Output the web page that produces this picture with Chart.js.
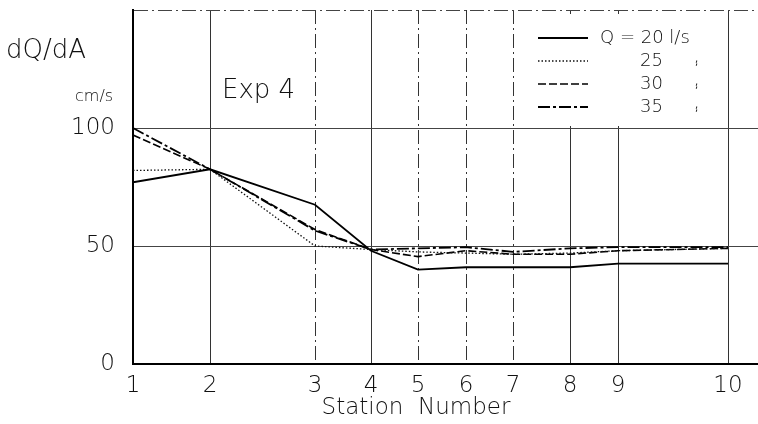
<!DOCTYPE html>
<html>
<head>
<meta charset="utf-8">
<script src="https://cdn.jsdelivr.net/npm/chart.js@4.4.0/dist/chart.umd.min.js"></script>
<style>
  html, body { margin: 0; padding: 0; background: #fff; }
  #wrap { width: 758px; height: 424px; }
</style>
</head>
<body>
<div id="wrap"><canvas id="dqda" width="758" height="424"></canvas></div>
<script>
// station positions along the flume (relative distance) and their labels
var stationPos = [0, 0.77, 1.82, 2.38, 2.85, 3.33, 3.80, 4.37, 4.85, 5.95];
var stationLabels = ["1", "2", "3", "4", "5", "6", "7", "8", "9", "10"];

// dQ/dA in cm/s for each discharge
var q20 = [77, 82.5, 67.5, 48, 40, 41, 41, 41, 42.5, 42.5];
var q25 = [82, 82.5, 50, 48.5, 47.5, 47, 46.5, 47, 48, 49];
var q30 = [97, 82.5, 57, 48.5, 45.5, 48, 46.5, 46.5, 48, 49];
var q35 = [100, 82.5, 56.5, 48.5, 49, 49.5, 47.5, 49, 49.5, 49.5];

var seriesNames = ["Q = 20 l/s", "25", "30", "35"];
var yTicks = [0, 50, 100];

var FONT = "'DejaVu Sans', sans-serif";
var solidStations = [1, 3, 7, 8, 9];  // indexes drawn as solid vertical lines

function pts(arr) {
    return arr.map(function(v, i) { return {x: stationPos[i], y: v}; });
}

// white box behind the legend, grid lines stop there
var legendBox = {
    id: 'legendBox',
    beforeDatasetsDraw: function(chart) {
        var ctx = chart.ctx;
        ctx.save();
        ctx.fillStyle = '#fff';
        ctx.fillRect(522, 14, 202, 112);
        ctx.restore();
    }
};

var textPlugin = {
    id: 'texts',
    afterDraw: function(chart) {
        var ctx = chart.ctx;
        ctx.save();
        ctx.fillStyle = '#111';
        ctx.textBaseline = 'middle';
        ctx.font = '200 26px ' + FONT;
        ctx.textAlign = 'left';
        ctx.fillText('dQ/dA', 6, 51);
        ctx.font = '200 16px ' + FONT;
        ctx.fillText('cm/s', 75, 97);
        ctx.font = '200 26px ' + FONT;
        ctx.fillText('Exp 4', 222, 91);
        ctx.font = '200 23px ' + FONT;
        ctx.textAlign = 'center';
        ctx.fillText('Station  Number', 416, 408);

        // legend
        var rows = [38, 61, 84, 107];
        chart.data.datasets.forEach(function(ds, i) {
            ctx.beginPath();
            ctx.setLineDash(ds.borderDash || []);
            ctx.lineWidth = ds.borderWidth;
            ctx.strokeStyle = ds.borderColor;
            ctx.moveTo(538, rows[i]);
            ctx.lineTo(588, rows[i]);
            ctx.stroke();
            ctx.setLineDash([]);
            ctx.font = '200 18px ' + FONT;
            ctx.textAlign = 'left';
            if (i == 0) {
                ctx.fillText(seriesNames[i], 600, rows[i]);
            } else {
                ctx.fillText(seriesNames[i], 640, rows[i]);
                ctx.font = '10px ' + FONT;
                ctx.fillText(',', 695, rows[i] - 2);
                ctx.fillText(',', 695, rows[i] + 1);
            }
        });
        ctx.restore();
    }
};

var ctx = document.getElementById('dqda').getContext('2d');
var chart = new Chart(ctx, {
    type: 'line',
    data: {
        datasets: [{
            label: seriesNames[0],
            data: pts(q20),
            borderColor: '#000',
            borderWidth: 1.8
        }, {
            label: seriesNames[1],
            data: pts(q25),
            borderColor: '#111',
            borderWidth: 1.3,
            borderDash: [1.5, 2]
        }, {
            label: seriesNames[2],
            data: pts(q30),
            borderColor: '#000',
            borderWidth: 1.6,
            borderDash: [8, 3]
        }, {
            label: seriesNames[3],
            data: pts(q35),
            borderColor: '#000',
            borderWidth: 1.8,
            borderDash: [12, 3, 3, 3]
        }]
    },
    options: {
        responsive: false,
        animation: false,
        layout: { padding: { left: 0, right: 0, top: 10, bottom: 0 } },
        elements: { point: { radius: 0 }, line: { tension: 0 } },
        plugins: { legend: { display: false }, tooltip: { enabled: false } },
        scales: {
            x: {
                type: 'linear',
                min: 0,
                max: 6.25,
                afterBuildTicks: function(scale) {
                    scale.ticks = stationPos.map(function(v) { return {value: v}; });
                },
                afterFit: function(scale) {
                    scale.height = 60;
                    scale.paddingLeft = 0;
                    scale.paddingRight = 0;
                },
                ticks: {
                    autoSkip: false,
                    maxRotation: 0,
                    padding: 8,
                    color: '#111',
                    font: { family: FONT, size: 23, weight: 200 },
                    callback: function(value, index) { return stationLabels[index]; }
                },
                grid: {
                    drawTicks: false,
                    color: '#333',
                    lineWidth: 1
                },
                border: {
                    color: '#000',
                    width: 2,
                    dash: function(c) {
                        return solidStations.indexOf(c.index) >= 0 ? [] : [14, 4, 2, 4];
                    }
                }
            },
            y: {
                min: 0,
                max: 150,
                afterBuildTicks: function(scale) {
                    scale.ticks = yTicks.concat([150]).map(function(v) { return {value: v}; });
                },
                afterFit: function(scale) {
                    scale.width = 133;
                    scale.paddingTop = 0;
                    scale.paddingBottom = 0;
                },
                ticks: {
                    padding: 18,
                    color: '#111',
                    font: { family: FONT, size: 23, weight: 200 },
                    callback: function(value) { return yTicks.indexOf(value) >= 0 ? String(value) : ''; }
                },
                grid: {
                    drawTicks: false,
                    color: '#444',
                    lineWidth: 1
                },
                border: {
                    color: '#000',
                    width: 2,
                    dash: function(c) {
                        return (c.tick && c.tick.value == 150) ? [14, 4, 2, 4] : [];
                    }
                }
            }
        }
    },
    plugins: [legendBox, textPlugin]
});
</script>
</body>
</html>
